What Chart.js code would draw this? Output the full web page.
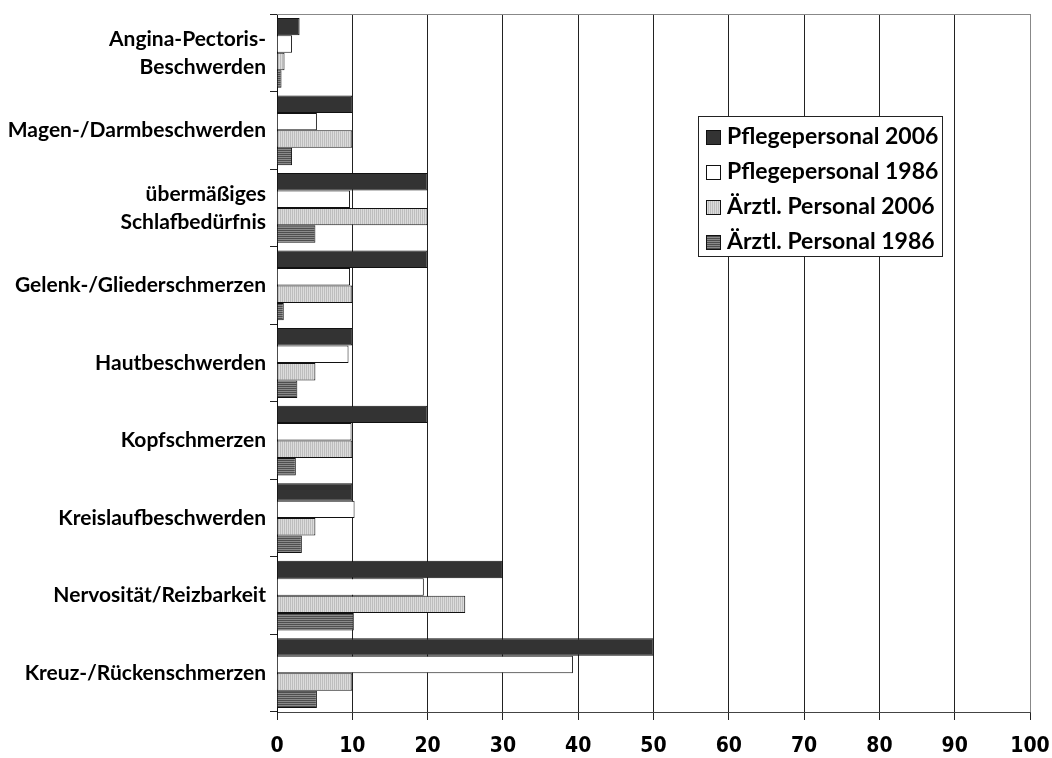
<!DOCTYPE html>
<html>
<head>
<meta charset="utf-8">
<script src="https://cdn.jsdelivr.net/npm/chart.js@4.4.1/dist/chart.umd.min.js"></script>
<style>
  html, body { margin: 0; padding: 0; background: #fff; }
  #wrap { width: 1052px; height: 758px; }
</style>
</head>
<body>
<div id="wrap"><canvas id="beschwerden"></canvas></div>
<script>
const categories = [
  ["Angina-Pectoris-", "Beschwerden"],
  "Magen-/Darmbeschwerden",
  ["übermäßiges", "Schlafbedürfnis"],
  "Gelenk-/Gliederschmerzen",
  "Hautbeschwerden",
  "Kopfschmerzen",
  "Kreislaufbeschwerden",
  "Nervosität/Reizbarkeit",
  "Kreuz-/Rückenschmerzen",
];
const seriesNames = [
  "Pflegepersonal 2006",
  "Pflegepersonal 1986",
  "Ärztl. Personal 2006",
  "Ärztl. Personal 1986",
];
const pflege2006 = [3, 10, 20, 20, 10, 20, 10, 30, 50];
const pflege1986 = [2, 5.3, 9.7, 9.7, 9.5, 9.9, 10.3, 19.5, 39.3];
const aerzte2006 = [1, 10, 20, 10, 5.1, 10, 5.1, 25, 10];
const aerzte1986 = [0.6, 2, 5.1, 0.9, 2.7, 2.5, 3.3, 10.2, 5.3];
const xTicks = [0, 10, 20, 30, 40, 50, 60, 70, 80, 90, 100];

// small canvas patterns for the striped fills
function stripes(base, line, vertical) {
  const c = document.createElement("canvas");
  c.width = 2;
  c.height = 2;
  const g = c.getContext("2d");
  g.fillStyle = base;
  g.fillRect(0, 0, 2, 2);
  g.fillStyle = line;
  if (vertical) g.fillRect(0, 0, 1, 2);
  else g.fillRect(0, 0, 2, 1);
  return g.createPattern(c, "repeat");
}

const fills = [
  "#333333",
  "#ffffff",
  stripes("#dcdcdc", "#bdbdbd", true),
  stripes("#8a8a8a", "#4e4e4e", false),
];

const boxLegend = {
  id: "boxLegend",
  afterDraw(chart) {
    const ctx = chart.ctx;
    const x0 = 698, y0 = 116, w = 244, h = 140;
    ctx.save();
    ctx.fillStyle = "#fff";
    ctx.fillRect(x0, y0, w, h);
    ctx.strokeStyle = "#222";
    ctx.lineWidth = 1;
    ctx.strokeRect(x0 + 0.5, y0 + 0.5, w, h);
    ctx.font = "bold 23px Lato, 'Open Sans', sans-serif";
    ctx.textBaseline = "middle";
    chart.data.datasets.forEach((ds, i) => {
      const cy = y0 + 21 + i * 35;
      ctx.fillStyle = ds.backgroundColor;
      ctx.fillRect(706, cy - 7, 15, 15);
      ctx.strokeStyle = "#111";
      ctx.strokeRect(706.5, cy - 6.5, 14, 14);
      ctx.fillStyle = "#000";
      ctx.fillText(ds.label, 727, cy);
    });
    ctx.restore();
  },
};

const frameLines = {
  id: "frameLines",
  beforeDatasetsDraw(chart) {
    const a = chart.chartArea;
    const ctx = chart.ctx;
    ctx.save();
    ctx.strokeStyle = "#888";
    ctx.lineWidth = 1;
    ctx.beginPath();
    ctx.moveTo(a.left, a.top + 0.5);
    ctx.lineTo(a.right + 0.5, a.top + 0.5);
    ctx.stroke();
    ctx.restore();
  },
};

const data = [pflege2006, pflege1986, aerzte2006, aerzte1986];

new Chart(document.getElementById("beschwerden"), {
  type: "bar",
  data: {
    labels: categories,
    datasets: data.map((values, i) => ({
      label: seriesNames[i],
      data: values,
      backgroundColor: fills[i],
      borderColor: "#111",
      borderWidth: 1,
      barPercentage: 1,
      categoryPercentage: 0.9,
    })),
  },
  options: {
    indexAxis: "y",
    responsive: true,
    maintainAspectRatio: false,
    animation: false,
    layout: { padding: { top: 14, right: 22, left: 0, bottom: 0 } },
    plugins: {
      legend: { display: false },
      tooltip: { enabled: false },
    },
    scales: {
      x: {
        min: 0,
        max: 100,
        afterBuildTicks: (scale) => {
          scale.ticks = xTicks.map((v) => ({ value: v }));
        },
        afterFit: (scale) => {
          scale.height = 46;
          scale.paddingLeft = 0;
          scale.paddingRight = 0;
        },
        grid: {
          color: (c) => (c.index === xTicks.length - 1 ? "#888" : "#222"),
          tickLength: 8,
          tickColor: "#222",
        },
        border: { color: "#444" },
        ticks: {
          color: "#000",
          padding: 14,
          maxRotation: 0,
          font: { family: "'DejaVu Sans Condensed', 'DejaVu Sans', sans-serif", weight: "bold", size: 21 },
        },
      },
      y: {
        afterFit: (scale) => {
          scale.width = 277;
          scale.paddingTop = 0;
          scale.paddingBottom = 0;
        },
        grid: {
          drawOnChartArea: false,
          tickLength: 7,
          tickColor: "#222",
        },
        border: { color: "#111" },
        ticks: {
          color: "#000",
          padding: 4,
          font: { family: "Lato, 'Open Sans', sans-serif", weight: "bold", size: 21, lineHeight: 1.33 },
        },
      },
    },
  },
  plugins: [frameLines, boxLegend],
});
</script>
</body>
</html>
